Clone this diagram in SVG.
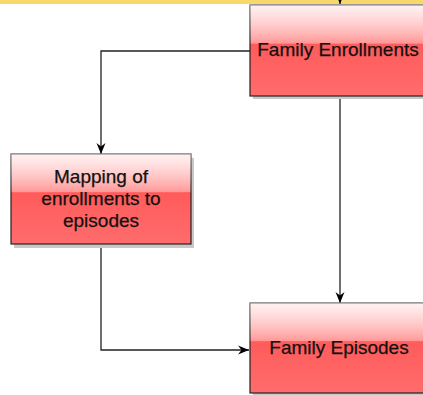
<svg xmlns="http://www.w3.org/2000/svg" width="423" height="395" viewBox="0 0 423 395">
<defs>
<linearGradient id="fill" x1="0" y1="0" x2="0" y2="1">
<stop offset="0" stop-color="#ffe4e4"/>
<stop offset="0.42" stop-color="#ff9494"/>
<stop offset="0.43" stop-color="#ff5b5b"/>
<stop offset="1" stop-color="#ff6c6c"/>
</linearGradient>
<linearGradient id="gloss" x1="0" y1="0" x2="0" y2="1">
<stop offset="0" stop-color="#ffffff" stop-opacity="0.5"/>
<stop offset="1" stop-color="#ffffff" stop-opacity="0.05"/>
</linearGradient>
<marker id="arr" markerWidth="12" markerHeight="12" refX="11" refY="6" orient="auto" markerUnits="userSpaceOnUse">
<path d="M0,1.5 L11,6 L0,10.5 L3.5,6 Z" fill="#000"/>
</marker>
</defs>
<style>
.shadow{fill:#c8c8c8}
.box{fill:url(#fill);stroke:#222;stroke-width:1.2}
.gl{fill:url(#gloss)}
.lbl{font-family:"Liberation Sans",Arial,sans-serif;font-size:19px;fill:#111;stroke:#111;stroke-width:0.25;text-anchor:middle}
.edge{fill:none;stroke:#222;stroke-width:1.3}
</style>
<rect x="0" y="0" width="423" height="4" fill="#f9d86b"/>
<g id="connectors">
<path class="edge" d="M340,-8 L340,4" marker-end="url(#arr)"/>
<path class="edge" d="M250,51 L101,51 L101,154" marker-end="url(#arr)"/>
<path class="edge" d="M340,96 L340,303" marker-end="url(#arr)"/>
<path class="edge" d="M101,245 L101,350 L249,350" marker-end="url(#arr)"/>
</g>
<g id="family-enrollments">
<rect class="shadow" x="253" y="8" width="180" height="91"/>
<rect class="box" x="250" y="5" width="180" height="91"/>
<rect class="gl" x="249.5" y="4.5" width="181" height="38"/>
<text class="lbl" x="338" y="56">Family Enrollments</text>
</g>
<g id="mapping">
<rect class="shadow" x="14" y="158" width="180" height="90"/>
<rect class="box" x="11" y="154" width="180" height="90"/>
<rect class="gl" x="10.5" y="153.5" width="181" height="38"/>
<text class="lbl" x="101" y="183">Mapping of</text>
<text class="lbl" x="101" y="205">enrollments to</text>
<text class="lbl" x="101" y="227">episodes</text>
</g>
<g id="family-episodes">
<rect class="shadow" x="253" y="307" width="180" height="90"/>
<rect class="box" x="250" y="303" width="180" height="90"/>
<rect class="gl" x="249.5" y="302.5" width="181" height="38"/>
<text class="lbl" x="339" y="354">Family Episodes</text>
</g>
</svg>
